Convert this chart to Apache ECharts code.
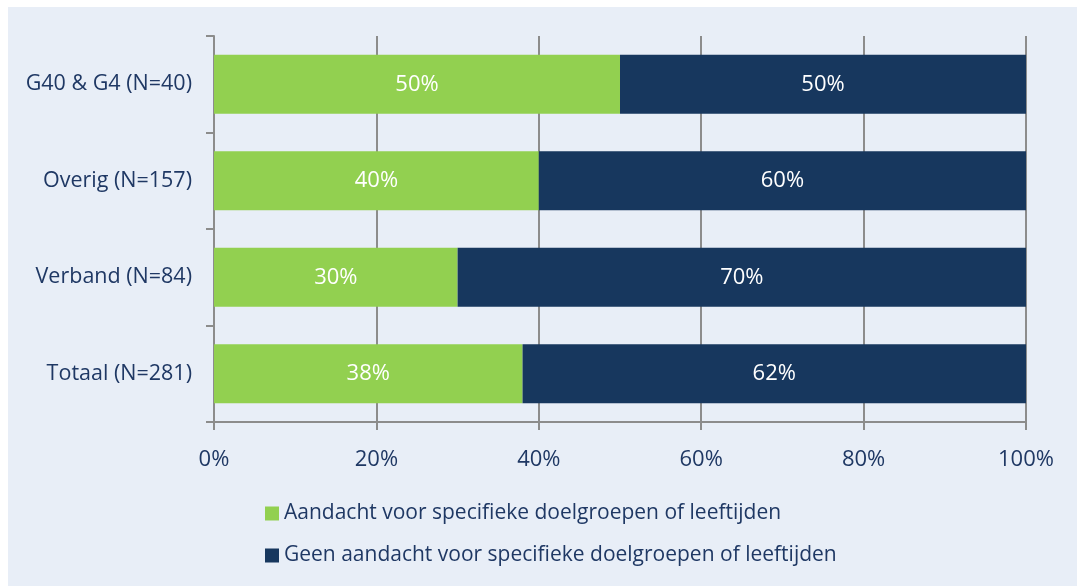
<!DOCTYPE html>
<html>
<head>
<meta charset="utf-8">
<script src="https://cdn.jsdelivr.net/npm/echarts@6/dist/echarts.min.js"></script>
<style>
  html, body { margin: 0; padding: 0; background: #fff; }
  #main { position: absolute; left: 8px; top: 7px; width: 1069px; height: 579px; background: #E8EEF7; }
</style>
</head>
<body>
<div id="main"></div>
<script>
// categorieen (van boven naar beneden)
var categories = ['G40 & G4 (N=40)', 'Overig (N=157)', 'Verband (N=84)', 'Totaal (N=281)'];
var seriesNames = [
    'Aandacht voor specifieke doelgroepen of leeftijden',
    'Geen aandacht voor specifieke doelgroepen of leeftijden'
];
var aandacht = [50, 40, 30, 38];
var geenAandacht = [50, 60, 70, 62];
var xTicks = [0, 20, 40, 60, 80, 100];

var textColor = '#1F3864';
var lineColor = '#8C8C8C';
var font = '"Open Sans", Lato, sans-serif';

var myChart = echarts.init(document.getElementById('main'));

var option = {
    animation: false,
    textStyle: { fontFamily: font },
    grid: { left: 206, right: 51, top: 29, bottom: 164 },
    xAxis: {
        type: 'value',
        min: xTicks[0],
        max: xTicks[xTicks.length - 1],
        interval: xTicks[1] - xTicks[0],
        axisLine: { show: true, lineStyle: { color: lineColor, width: 2 } },
        axisTick: { show: true, length: 8, lineStyle: { color: lineColor, width: 2 } },
        splitLine: { show: true, lineStyle: { color: lineColor, width: 2 } },
        axisLabel: { formatter: '{value}%', color: textColor, fontSize: 22, fontFamily: font, margin: 27 }
    },
    yAxis: {
        type: 'category',
        inverse: true,
        data: categories,
        axisLine: { show: true, lineStyle: { color: lineColor, width: 2 } },
        axisTick: { show: true, length: 8, lineStyle: { color: lineColor, width: 2 } },
        axisLabel: { color: textColor, fontSize: 21.5, fontFamily: font, margin: 22 }
    },
    legend: {
        orient: 'vertical',
        left: 252,
        top: 491,
        itemWidth: 14,
        itemHeight: 14,
        itemGap: 21,
        itemStyle: { borderWidth: 0 },
        icon: 'rect',
        textStyle: { color: textColor, fontSize: 21, fontFamily: font },
        data: seriesNames
    },
    series: [
        {
            name: seriesNames[0],
            type: 'bar',
            stack: 'totaal',
            barWidth: 59,
            itemStyle: { color: '#92D050' },
            label: { show: true, position: 'inside', color: '#fff', fontSize: 22, fontFamily: font, formatter: '{c}%' },
            data: aandacht
        },
        {
            name: seriesNames[1],
            type: 'bar',
            stack: 'totaal',
            barWidth: 59,
            itemStyle: { color: '#17375E' },
            label: { show: true, position: 'inside', color: '#fff', fontSize: 22, fontFamily: font, formatter: '{c}%' },
            data: geenAandacht
        }
    ]
};

myChart.setOption(option);
</script>
</body>
</html>
